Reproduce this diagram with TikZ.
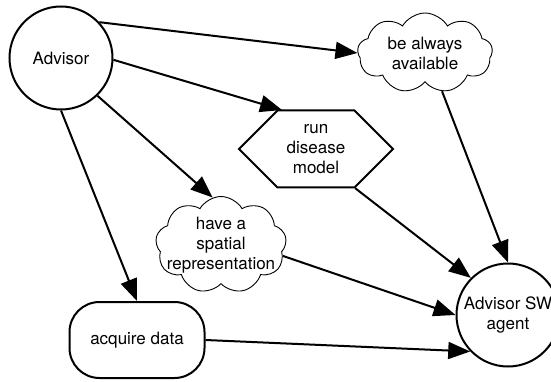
\documentclass[tikz,border=0pt]{standalone}
\usepackage{fontspec}
\setmainfont{TeX Gyre Heros}
\usetikzlibrary{arrows.meta,shapes.symbols}

\begin{document}
\begin{tikzpicture}[x=1pt,y=-1pt,
    every node/.style={font=\fontsize{17}{20}\selectfont,align=center},
    actor/.style={draw,line width=2pt,circle,minimum size=103pt,inner sep=0pt},
    softgoal/.style={draw,line width=0.9pt,cloud,cloud puffs=9,cloud puff arc=120,cloud ignores aspect,inner xsep=-14pt,inner ysep=0pt},
    task/.style={draw,line width=2pt,signal,signal to=west and east,signal pointer angle=90,minimum width=154pt,minimum height=77pt,inner sep=0pt},
    goal/.style={draw,line width=2pt,rounded corners=30pt,minimum width=135pt,minimum height=76pt},
    link/.style={line width=2pt,-{Triangle[length=22pt,width=17pt]}}]
    \useasboundingbox (0,0) rectangle (551,382);

    %Actores
    \node[actor] (advisor) at (61,58) {Advisor};
    \node[actor] (agent) at (508,315) {Advisor SW\\agent};

    %Elementos
    \node[softgoal,minimum width=135pt,minimum height=80pt] (avail) at (425,53) {be always\\available};
    \node[task] (model) at (316,149) {run\\disease\\model};
    \node[softgoal,minimum width=131pt,minimum height=84pt] (spatial) at (221,245) {have a\\spatial\\representation};
    \node[goal] (data) at (137,340) {acquire data};

    %Enlaces
    \draw[link] (advisor.43) -- (avail.west);
    \draw[link] (advisor.-2) -- (model.131);
    \draw[link] (advisor.-46) -- (spatial.100);
    \draw[link] (advisor.south) -- (data.north);
    \draw[link] (avail.-66) -- (agent.north);
    \draw[link] (model.-45) -- (agent.135);
    \draw[link] (spatial.-10) -- (agent.west);
    \draw[link] (data.east) -- (agent.-136);
\end{tikzpicture}
\end{document}
